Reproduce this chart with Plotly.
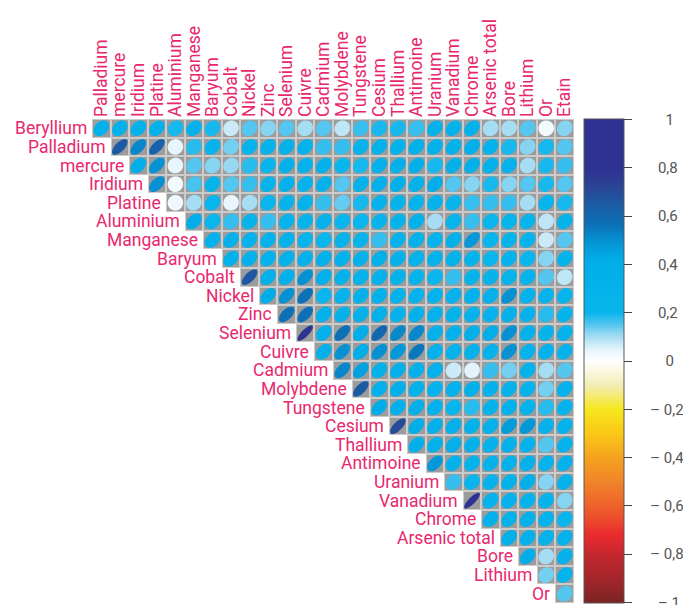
import numpy as np
import plotly.graph_objects as go
from plotly.colors import sample_colorscale

variables = ["Beryllium", "Palladium", "mercure", "Iridium", "Platine", "Aluminium",
             "Manganese", "Baryum", "Cobalt", "Nickel", "Zinc", "Selenium", "Cuivre",
             "Cadmium", "Molybdene", "Tungstene", "Cesium", "Thallium", "Antimoine",
             "Uranium", "Vanadium", "Chrome", "Arsenic total", "Bore", "Lithium", "Or", "Etain"]
row_labels = variables[:-1]
col_labels = variables[1:]

# correlation of each row variable with every later variable (upper triangle)
r_beryllium = [0.30, 0.30, 0.31, 0.32, 0.19, 0.27, 0.19, 0.07, 0.15, 0.12, 0.15, 0.10, 0.15,
               0.08, 0.17, 0.19, 0.19, 0.17, 0.30, 0.29, 0.32, 0.10, 0.10, 0.15, 0.02, 0.12]
r_palladium = [0.65, 0.52, 0.62, 0.04, 0.18, 0.25, 0.13, 0.25, 0.27, 0.30, 0.28, 0.17, 0.17,
               0.25, 0.32, 0.32, 0.33, 0.30, 0.32, 0.33, 0.27, 0.19, 0.12, 0.19, 0.15]
r_mercure = [0.38, 0.50, 0.04, 0.15, 0.12, 0.11, 0.18, 0.24, 0.30, 0.27, 0.30, 0.20, 0.19,
             0.32, 0.33, 0.33, 0.19, 0.33, 0.35, 0.33, 0.27, 0.10, 0.19, 0.17]
r_iridium = [0.50, 0.02, 0.16, 0.25, 0.15, 0.17, 0.25, 0.30, 0.28, 0.32, 0.15, 0.32, 0.33,
             0.33, 0.32, 0.38, 0.15, 0.12, 0.19, 0.12, 0.15, 0.19, 0.15]
r_platine = [0.03, 0.10, 0.20, 0.04, 0.10, 0.20, 0.25, 0.27, 0.17, 0.14, 0.19, 0.27, 0.25,
             0.25, 0.25, 0.24, 0.17, 0.17, 0.17, 0.10, 0.25, 0.19]
r_aluminium = [0.38, 0.20, 0.17, 0.25, 0.17, 0.25, 0.25, 0.28, 0.20, 0.20, 0.25, 0.27, 0.30,
               0.10, 0.25, 0.17, 0.20, 0.22, 0.25, 0.08, 0.25]
r_manganese = [0.32, 0.30, 0.28, 0.28, 0.28, 0.25, 0.20, 0.25, 0.25, 0.17, 0.27, 0.30, 0.25,
               0.35, 0.48, 0.20, 0.25, 0.25, 0.07, 0.15]
r_baryum = [0.33, 0.32, 0.28, 0.32, 0.32, 0.33, 0.32, 0.32, 0.33, 0.32, 0.27, 0.27, 0.27,
            0.25, 0.20, 0.27, 0.20, 0.12, 0.25]
r_cobalt = [0.66, 0.35, 0.33, 0.50, 0.33, 0.32, 0.28, 0.30, 0.27, 0.25, 0.20, 0.17, 0.25,
            0.25, 0.25, 0.25, 0.15, 0.08]
r_nickel = [0.42, 0.50, 0.56, 0.20, 0.28, 0.32, 0.32, 0.28, 0.28, 0.27, 0.28, 0.28, 0.30,
            0.50, 0.27, 0.25, 0.25]
r_zinc = [0.57, 0.57, 0.33, 0.32, 0.30, 0.33, 0.28, 0.30, 0.30, 0.27, 0.28, 0.28, 0.30,
          0.27, 0.18, 0.25]
r_selenium = [0.80, 0.35, 0.57, 0.38, 0.60, 0.52, 0.52, 0.30, 0.30, 0.33, 0.38, 0.50, 0.28,
              0.25, 0.27]
r_cuivre = [0.35, 0.50, 0.40, 0.50, 0.48, 0.55, 0.30, 0.28, 0.28, 0.28, 0.50, 0.28, 0.28, 0.27]
r_cadmium = [0.52, 0.45, 0.30, 0.35, 0.30, 0.30, 0.07, 0.05, 0.17, 0.13, 0.27, 0.10, 0.15]
r_molybdene = [0.65, 0.33, 0.33, 0.30, 0.28, 0.28, 0.30, 0.30, 0.28, 0.28, 0.13, 0.28]
r_tungstene = [0.42, 0.33, 0.35, 0.30, 0.20, 0.18, 0.28, 0.30, 0.28, 0.18, 0.27]
r_cesium = [0.70, 0.40, 0.35, 0.33, 0.30, 0.30, 0.47, 0.48, 0.27, 0.28]
r_thallium = [0.35, 0.33, 0.33, 0.30, 0.32, 0.30, 0.28, 0.15, 0.27]
r_antimoine = [0.48, 0.30, 0.28, 0.30, 0.32, 0.30, 0.28, 0.32]
r_uranium = [0.17, 0.20, 0.28, 0.32, 0.35, 0.12, 0.27]
r_vanadium = [0.82, 0.28, 0.28, 0.27, 0.25, 0.12]
r_chrome = [0.32, 0.32, 0.30, 0.27, 0.20]
r_arsenic = [0.35, 0.30, 0.28, 0.28]
r_bore = [0.38, 0.10, 0.30]
r_lithium = [0.13, 0.27]
r_or = [0.15]

rows = [r_beryllium, r_palladium, r_mercure, r_iridium, r_platine, r_aluminium, r_manganese,
        r_baryum, r_cobalt, r_nickel, r_zinc, r_selenium, r_cuivre, r_cadmium, r_molybdene,
        r_tungstene, r_cesium, r_thallium, r_antimoine, r_uranium, r_vanadium, r_chrome,
        r_arsenic, r_bore, r_lithium, r_or]

tick_vals = [1, 0.8, 0.6, 0.4, 0.2, 0, -0.2, -0.4, -0.6, -0.8, -1]
tick_text = ["1", "0,8", "0,6", "0,4", "0,2", "0", "– 0,2", "– 0,4", "– 0,6", "– 0,8", "– 1"]

stops = [(-1, '#7B2323'), (-0.9, '#A3262B'), (-0.8, '#C5272E'), (-0.72, '#EA2A2E'),
         (-0.62, '#EE5A2C'), (-0.5, '#F0842A'), (-0.4, '#F5A21F'), (-0.3, '#FBC716'),
         (-0.2, '#F6E71E'), (-0.1, '#F3EDB5'), (0, '#FFFFFF'), (0.05, '#E2F3FB'),
         (0.1, '#A6DDF3'), (0.15, '#55C6EF'), (0.2, '#08B5EC'), (0.42, '#00ADE8'),
         (0.5, '#0691D3'), (0.56, '#0B72B8'), (0.64, '#1A5DA6'), (0.72, '#2A4594'),
         (0.78, '#2E3492'), (1, '#2E3192')]
colorscale = [[(v + 1) / 2, c] for v, c in stops]

PINK = '#E8286E'
FONT = 'Roboto'
n = len(col_labels)

EN = "\u2002"
ZW = "\u200b"

# centre the colour-bar labels (visual padding with typographic spaces)
def pad(t):
    if t in ("1", "0"):
        return EN * 4 + t + ZW
    if t == "– 1":
        return EN * 3 + t + ZW
    if t.startswith("–"):
        return EN * 2 + t
    return EN * 3 + t

Z = [[None] * n for _ in range(n)]
for i, vals in enumerate(rows):
    for k, v in enumerate(vals):
        Z[i][i + k] = v
mask = [[1 if Z[i][j] is not None else None for j in range(n)] for i in range(n)]

fig = go.Figure()
fig.add_trace(go.Heatmap(z=mask, x=list(range(n)), y=list(range(n)),
                         colorscale=[[0, '#CBCBCB'], [1, '#CBCBCB']], showscale=False,
                         hoverinfo='skip'))
fig.add_trace(go.Heatmap(z=mask, x=list(range(n)), y=list(range(n)),
                         colorscale=[[0, '#9C9C9C'], [1, '#9C9C9C']], showscale=False,
                         xgap=2, ygap=2, hoverinfo='skip'))

xs, ys, cs = [], [], []
for i in range(n):
    for j in range(n):
        if Z[i][j] is not None:
            xs.append(j); ys.append(i); cs.append(Z[i][j])
fig.add_trace(go.Scatter(
    x=xs, y=ys, mode='markers', hoverinfo='skip',
    marker=dict(size=1, opacity=0, color=cs, cmin=-1.002, cmax=1.002, colorscale=colorscale,
                showscale=True,
                colorbar=dict(x=1.0207, xanchor='left', xpad=0, y=1.0, yanchor='top', ypad=0,
                              lenmode='pixels', len=484, thickness=40,
                              outlinewidth=1, outlinecolor='#555555',
                              ticks='outside', ticklen=8, tickcolor='#444444', tickwidth=1,
                              tickvals=tick_vals, ticktext=[pad(t) for t in tick_text],
                              ticklabeloverflow='allow',
                              tickfont=dict(family=FONT, size=15, color='#555555'))),
    showlegend=False))

shapes = []
S = 0.42
tt = np.linspace(0, 2 * np.pi, 48, endpoint=False)
for i in range(n):
    for j in range(n):
        r = Z[i][j]
        if r is None:
            continue
        d = np.arccos(r)
        px = j + S * np.cos(tt + d / 2)
        py = i - S * np.cos(tt - d / 2)
        path = "M " + " L ".join(f"{a:.4f},{b:.4f}" for a, b in zip(px, py)) + " Z"
        col = sample_colorscale(colorscale, [(r + 1) / 2])[0]
        shapes.append(dict(type='path', path=path, xref='x', yref='y',
                           fillcolor=col, line=dict(width=0)))

annotations = []
for i, lab in enumerate(row_labels):
    annotations.append(dict(x=i - 0.5, y=i, xref='x', yref='y', text=lab, showarrow=False,
                            xanchor='right', yanchor='middle', xshift=-3,
                            font=dict(family=FONT, size=17.5, color=PINK)))

# the page body adds an 8px offset, so the figure is 8px smaller and shifted
fig.update_layout(
    width=683, height=597,
    margin=dict(l=84, r=117, t=111, b=2, autoexpand=False),
    paper_bgcolor='white', plot_bgcolor='white',
    shapes=shapes, annotations=annotations, showlegend=False,
    xaxis=dict(range=[-0.5, n - 0.5], side='top', tickmode='array',
               tickvals=list(range(n)), ticktext=col_labels, tickangle=-90,
               tickfont=dict(family=FONT, size=17.5, color=PINK), ticklabelstandoff=1,
               showgrid=False, zeroline=False, showline=False, ticks=''),
    yaxis=dict(range=[n - 0.5, -0.5], showticklabels=False, showgrid=False,
               zeroline=False, showline=False, ticks=''),
)

fig.write_html("out.html")
